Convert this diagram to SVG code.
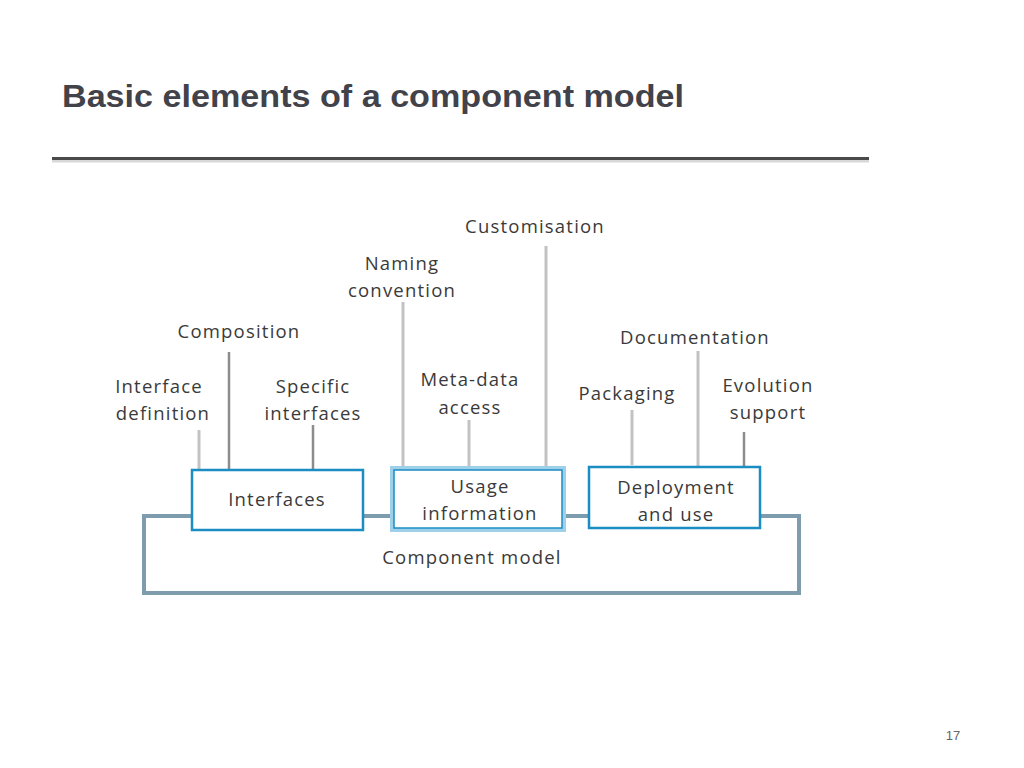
<svg xmlns="http://www.w3.org/2000/svg" width="1024" height="768" viewBox="0 0 1024 768">
<style>
.t{font-family:"Open Sans","Noto Sans",sans-serif;font-size:18.5px;letter-spacing:1.2px;fill:#3a3a3a;text-anchor:middle}
.box{fill:#fff;stroke:#1b8dc2;stroke-width:2.5}
.lc{stroke:#c2c2c2;stroke-width:3}
.dc{stroke:#8c8c8c;stroke-width:2.5}
</style>
<rect width="1024" height="768" fill="#fff"/>
<text x="62" y="107" font-family="Liberation Sans, Arial, sans-serif" font-weight="bold" font-size="32" fill="#42424a" textLength="622" lengthAdjust="spacingAndGlyphs">Basic elements of a component model</text>
<line x1="52" y1="161" x2="869" y2="161" stroke="#d8d8d8" stroke-width="3"/>
<line x1="52" y1="158.5" x2="869" y2="158.5" stroke="#4a4a4a" stroke-width="3"/>
<g id="connectors">
<line class="lc" x1="199" y1="430" x2="199" y2="470"/>
<line class="dc" x1="229" y1="352" x2="229" y2="470"/>
<line class="dc" x1="313" y1="425" x2="313" y2="470"/>
<line class="lc" x1="403" y1="302" x2="403" y2="468"/>
<line class="lc" x1="469" y1="420" x2="469" y2="468"/>
<line class="lc" x1="546" y1="246" x2="546" y2="468"/>
<line class="lc" x1="632" y1="410" x2="632" y2="465"/>
<line class="lc" x1="698" y1="351" x2="698" y2="467"/>
<line class="dc" x1="744" y1="432" x2="744" y2="467"/>
</g>
<g id="component-model">
<rect x="144" y="516" width="655" height="77" fill="none" stroke="#7d9cae" stroke-width="4"/>
<text class="t" x="472" y="564">Component model</text>
</g>
<g id="interfaces">
<rect class="box" x="192" y="470" width="171" height="60"/>
<text class="t" x="277" y="506">Interfaces</text>
</g>
<g id="usage-information">
<rect x="392" y="468" width="172" height="62" fill="#fff" stroke="#9fd0ea" stroke-width="4"/>
<rect x="394" y="470" width="168" height="58" fill="none" stroke="#1b8dc2" stroke-width="1.5"/>
<text class="t" x="480" y="493">Usage</text>
<text class="t" x="480" y="520">information</text>
</g>
<g id="deployment">
<rect class="box" x="589" y="467" width="171" height="61"/>
<text class="t" x="676" y="494">Deployment</text>
<text class="t" x="676" y="521">and use</text>
</g>
<g id="labels">
<text class="t" x="535" y="233">Customisation</text>
<text class="t" x="402" y="270">Naming</text>
<text class="t" x="402" y="297">convention</text>
<text class="t" x="239" y="338">Composition</text>
<text class="t" x="159" y="393">Interface</text>
<text class="t" x="163" y="420">definition</text>
<text class="t" x="313" y="393">Specific</text>
<text class="t" x="313" y="420">interfaces</text>
<text class="t" x="470" y="386">Meta-data</text>
<text class="t" x="470" y="414">access</text>
<text class="t" x="627" y="400">Packaging</text>
<text class="t" x="695" y="344">Documentation</text>
<text class="t" x="768" y="392">Evolution</text>
<text class="t" x="768" y="419">support</text>
</g>
<text x="953" y="740" font-family="Liberation Sans, Arial, sans-serif" font-size="13" fill="#666" text-anchor="middle">17</text>
</svg>
